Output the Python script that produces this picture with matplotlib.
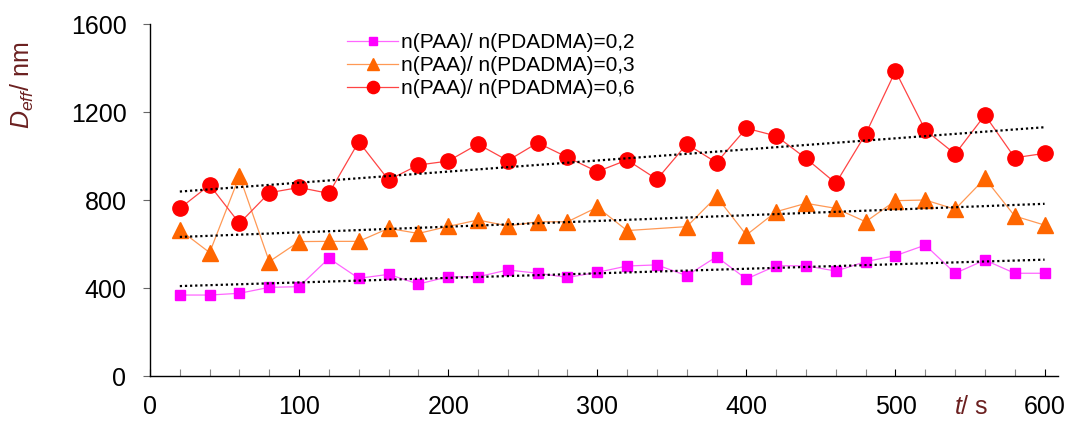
import numpy as np
import matplotlib
matplotlib.use("Agg")
import matplotlib.pyplot as plt
from matplotlib.ticker import MultipleLocator

plt.rcParams["font.family"] = ["Liberation Sans", "DejaVu Sans"]
plt.rcParams["mathtext.fontset"] = "custom"
plt.rcParams["mathtext.rm"] = "Liberation Sans"
plt.rcParams["mathtext.it"] = "Liberation Sans:italic"

# time, s
t = [20, 40, 60, 80, 100, 120, 140, 160, 180, 200, 220, 240, 260, 280, 300,
     320, 340, 360, 380, 400, 420, 440, 460, 480, 500, 520, 540, 560, 580, 600]

# n(PAA)/n(PDADMA) = 0,2
d_02 = [368, 368, 376, 403, 406, 535, 444, 462, 418, 451, 451, 482, 467, 448, 471,
        500, 505, 456, 542, 441, 501, 501, 477, 520, 547, 595, 467, 527, 467, 467]

# n(PAA)/n(PDADMA) = 0,3 (no point at 340 s)
t_03 = [20, 40, 60, 80, 100, 120, 140, 160, 180, 200, 220, 240, 260, 280, 300,
        320, 360, 380, 400, 420, 440, 460, 480, 500, 520, 540, 560, 580, 600]
d_03 = [664, 561, 909, 520, 611, 612, 612, 671, 648, 680, 709, 682, 701, 701, 767,
        661, 679, 815, 641, 747, 785, 762, 701, 797, 800, 758, 898, 727, 686]

# n(PAA)/n(PDADMA) = 0,6
d_06 = [762, 868, 694, 833, 857, 830, 1065, 891, 959, 977, 1054, 979, 1060, 994, 929,
        982, 894, 1054, 970, 1126, 1091, 989, 876, 1100, 1386, 1118, 1009, 1186, 992, 1012]

labels = ["n(PAA)/ n(PDADMA)=0,2", "n(PAA)/ n(PDADMA)=0,3", "n(PAA)/ n(PDADMA)=0,6"]

fig = plt.figure(figsize=(10.68, 4.21), dpi=100)
ax = fig.add_axes([150 / 1068, 1 - 376 / 421, (1058 - 150) / 1068, (376 - 24) / 421])

ax.plot(t, d_02, color="#ff66ff", lw=0.9, marker="s", ms=7.5,
        mfc="#ff00ff", mec="#ff00ff", label=labels[0], zorder=3)
ax.plot(t_03, d_03, color="#ff9955", lw=0.9, marker="^", ms=11,
        mfc="#ff6600", mec="#ff6600", label=labels[1], zorder=3)
ax.plot(t, d_06, color="#ff4444", lw=0.9, marker="o", ms=11,
        mfc="#ff0000", mec="#ff0000", label=labels[2], zorder=3)

# linear trend lines
for xs, ys in [(t, d_02), (t_03, d_03), (t, d_06)]:
    k, b = np.polyfit(xs, ys, 1)
    xx = np.array([xs[0], xs[-1]])
    ax.plot(xx, k * xx + b, color="black", lw=1.6, ls=(0, (1, 1.3)), zorder=4)

ax.set_xlim(0, 609)
ax.set_ylim(0, 1600)
ax.xaxis.set_major_locator(MultipleLocator(100))
ax.xaxis.set_minor_locator(MultipleLocator(20))
ax.yaxis.set_major_locator(MultipleLocator(400))

for s in ["top", "right"]:
    ax.spines[s].set_visible(False)
for s in ["left", "bottom"]:
    ax.spines[s].set_linewidth(1.0)
    ax.spines[s].set_color("black")

ax.tick_params(axis="y", direction="out", length=5, width=0.8, color="#666666",
               labelsize=18, pad=12)
ax.tick_params(axis="x", which="major", direction="in", length=5, width=0.8,
               color="black", labelsize=18, pad=14)
ax.tick_params(axis="x", which="minor", direction="in", length=5, width=0.8,
               color="#888888")

ax.legend(loc="upper left", bbox_to_anchor=((347 - 150) / 908, (376 - 33) / 352),
          frameon=False, fontsize=15, handlelength=2.45, handletextpad=0.15,
          labelspacing=0.2, borderpad=0, borderaxespad=0, markerscale=0.8)

fig.text(22 / 1068, 1 - 85 / 421, r"$D_{eff}/$ nm", rotation=90, ha="center",
         va="center", fontsize=18, color="#6b2020")
fig.text(971 / 1068, 1 - 407 / 421, r"$t/$ s", ha="center", va="center",
         fontsize=18, color="#6b2020")

fig.savefig("out.png", dpi=100)
